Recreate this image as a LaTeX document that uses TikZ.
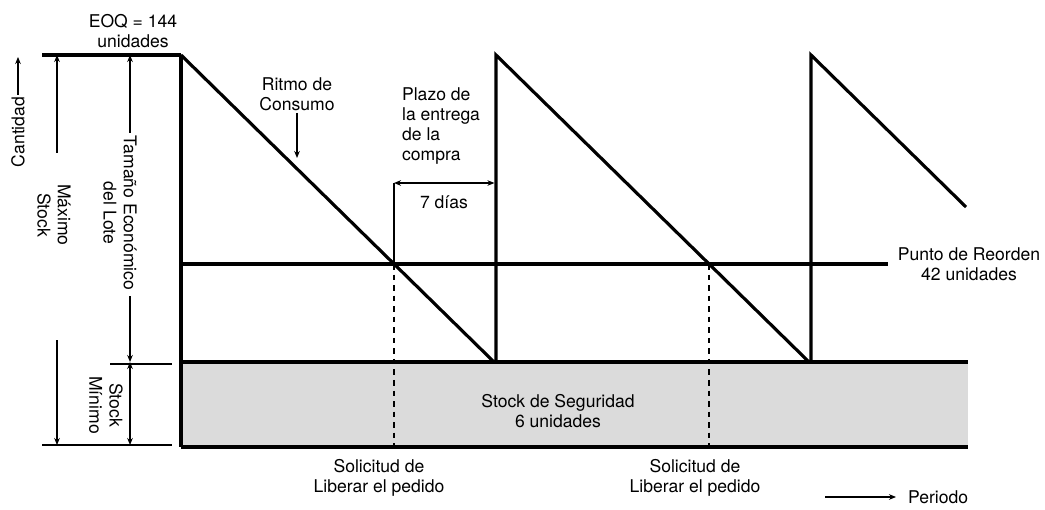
\documentclass[tikz,border=0pt]{standalone}
\usepackage{fontspec}
\setmainfont{TeX Gyre Heros}
\usetikzlibrary{arrows.meta}

\begin{document}
\begin{tikzpicture}[x=0.02cm,y=-0.02cm,
  every node/.style={font=\fontsize{10}{11.5}\selectfont,inner sep=1pt},
  heavy/.style={line width=1.8pt},
  rule/.style={line width=1.1pt},
  thinarrow/.style={line width=0.6pt,-{Stealth[length=4pt,width=3.2pt]}},
  bothways/.style={line width=0.6pt,{Stealth[length=4pt,width=3.2pt]}-{Stealth[length=4pt,width=3.2pt]}},
  orderline/.style={line width=1.5pt,dash pattern=on 3.2pt off 2.8pt}]
\useasboundingbox (0,0) rectangle (1045,510);
% main points
\coordinate (top) at (181,55);
\coordinate (O) at (181,447);
\coordinate (ss) at (181,362);
\coordinate (rp) at (181,264);
\coordinate (peak2) at (496,55);
\coordinate (peak3) at (811,55);
\coordinate (low1) at (494,362);
\coordinate (low2) at (809,362);
\coordinate (end) at (966,207);
\coordinate (r1) at (394,264);
\coordinate (r2) at (709,264);
% safety stock band
\fill[black!14] (ss) rectangle (968,447);
\draw[heavy] (O) -- (968,447);
\draw[heavy] (ss) -- (968,362);
\draw[heavy] (top) -- (O);
\draw[heavy] (rp) -- (888,264);
% saw tooth
\draw[heavy] (top) -- (low1) (low1) -| (peak2) -- (low2) (low2) -| (peak3) -- (end);
% order release
\draw[orderline] (r1) -- (r1 |- O);
\draw[orderline] (r2) -- (r2 |- O);
% left scale
\draw[heavy] (42,55) -- (top);
\draw[rule] (110,364) -- (172,364);
\draw[rule] (42,445) -- (172,445);
\node[align=center] (eoq) at (133,31) {EOQ = 144\\unidades};
\node[rotate=90] (cantidad) at (18,132) {Cantidad};
\coordinate (cantTop) at (18,57);
\draw[thinarrow] (cantidad.east) -- (cantTop);
\node[rotate=-90,align=center] (maximo) at (54,215) {Máximo\\Stock};
\coordinate (maxA) at (57,153);
\coordinate (maxB) at (57,55);
\coordinate (maxC) at (57,340);
\coordinate (maxD) at (57,445);
\draw[thinarrow] (maxA) -- (maxB);
\draw[thinarrow] (maxC) -- (maxD);
\node[rotate=-90,align=center] (lote) at (120,213) {Tamaño Económico\\del Lote};
\coordinate (loteA) at (130,133);
\coordinate (loteB) at (130,55);
\coordinate (loteC) at (130,296);
\coordinate (loteD) at (130,362);
\coordinate (loteE) at (130,445);
\draw[thinarrow] (loteA) -- (loteB);
\draw[thinarrow] (loteC) -- (loteD);
\draw[bothways] (loteD) -- (loteE);
\node[rotate=-90,align=center] (minimo) at (106,405) {Stock\\Mínimo};
% chart labels
\node[align=center] (ritmo) at (297,94) {Ritmo de\\Consumo};
\coordinate (ritmoEnd) at (297,158);
\draw[thinarrow] (ritmo.south) -- (ritmoEnd);
\node[align=left,anchor=west] (plazo) at (400,126) {Plazo de\\la entrega\\de la\\compra};
\coordinate (lead) at (394,183);
\draw[line width=0.6pt] (r1) -- (lead);
\draw[bothways] (lead) -- ([xshift=-0.9pt]lead -| peak2);
\node (dias) at (444,202) {7 días};
\node[align=center] (reorden) at (969,264) {Punto de Reorden\\42 unidades};
\node[align=center] (seguridad) at (558,411) {Stock de Seguridad\\6 unidades};
\node[align=center] (sol1) at (379,478) {Solicitud de\\Liberar el pedido};
\node[align=center] (sol2) at (695,478) {Solicitud de\\Liberar el pedido};
\node[anchor=west] (periodo) at (906,497) {Periodo};
\coordinate (perA) at (825,497);
\draw[thinarrow] (perA) -- ([xshift=-0.2cm]periodo.west);
\end{tikzpicture}
\end{document}
